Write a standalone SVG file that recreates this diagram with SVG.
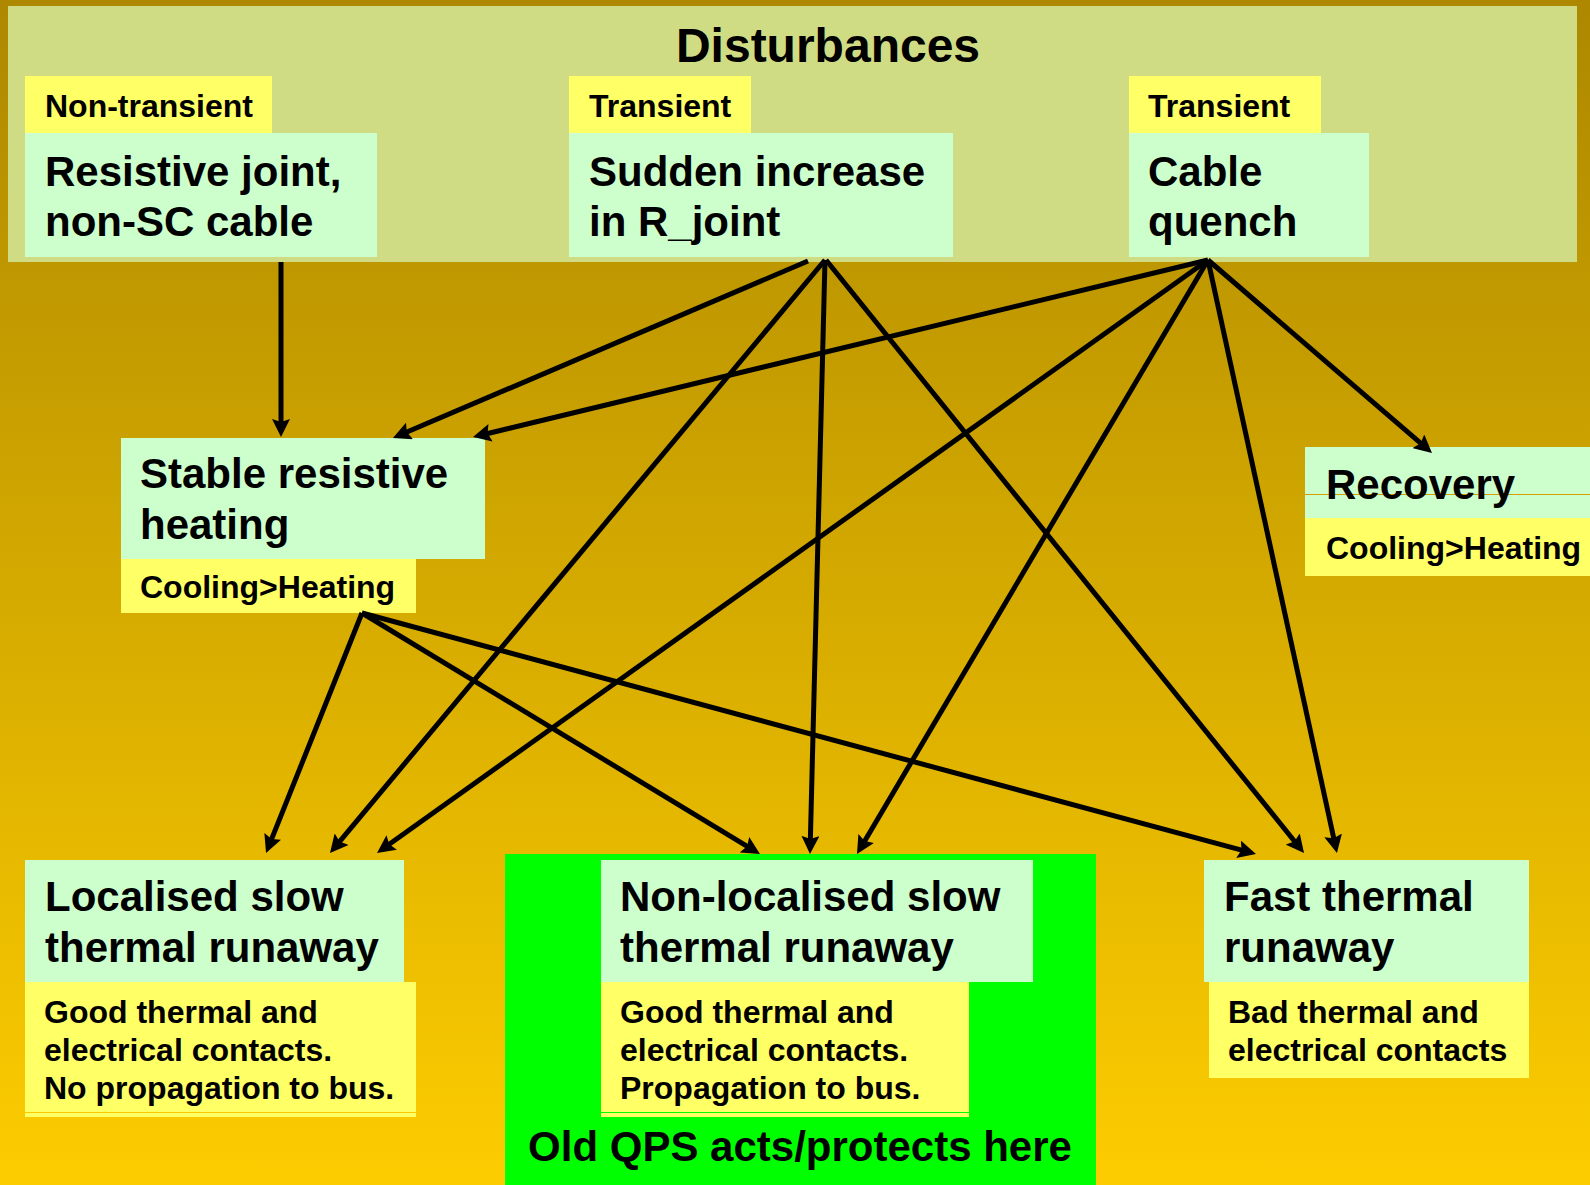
<svg xmlns="http://www.w3.org/2000/svg" width="1590" height="1185" viewBox="0 0 1590 1185">
  <defs>
    <linearGradient id="bg" x1="0" y1="0" x2="0" y2="1">
      <stop offset="0" stop-color="#ad8800"/>
      <stop offset="1" stop-color="#fdcc00"/>
    </linearGradient>
    <marker id="ah" viewBox="0 0 18 18" markerWidth="18" markerHeight="18" refX="6" refY="9" orient="auto" markerUnits="userSpaceOnUse">
      <path d="M0,0 L18,9 L0,18 L3,9 z" fill="#000"/>
    </marker>
    <style>
      .t { font-family: "Liberation Sans", Arial, sans-serif; font-weight: bold; fill: #000; }
      .big { font-size: 42px; }
      .small { font-size: 32px; }
      .title { font-size: 48px; }
      .g { fill: #ccffcc; }
      .y { fill: #ffff66; }
      .c { stroke: #000; stroke-width: 5; fill: none; marker-end: url(#ah); }
    </style>
  </defs>
  <rect x="0" y="0" width="1590" height="1185" fill="url(#bg)"/>

  <g id="disturbances">
    <rect x="8" y="6" width="1569" height="256" fill="#d0dc84"/>
    <text class="t title" x="828" y="62" text-anchor="middle">Disturbances</text>
  </g>

  <g id="resistive-joint">
    <rect class="y" x="25" y="76" width="247" height="57"/>
    <text class="t small" x="45" y="117">Non-transient</text>
    <rect class="g" x="25" y="133" width="352" height="124"/>
    <text class="t big" x="45" y="186">Resistive joint,</text>
    <text class="t big" x="45" y="236">non-SC cable</text>
  </g>

  <g id="sudden-increase">
    <rect class="y" x="569" y="76" width="182" height="57"/>
    <text class="t small" x="589" y="117">Transient</text>
    <rect class="g" x="569" y="133" width="384" height="124"/>
    <text class="t big" x="589" y="186">Sudden increase</text>
    <text class="t big" x="589" y="236">in R_joint</text>
  </g>

  <g id="cable-quench">
    <rect class="y" x="1129" y="76" width="192" height="57"/>
    <text class="t small" x="1148" y="117">Transient</text>
    <rect class="g" x="1129" y="133" width="240" height="124"/>
    <text class="t big" x="1148" y="186">Cable</text>
    <text class="t big" x="1148" y="236">quench</text>
  </g>

  <g id="stable-heating">
    <rect class="g" x="121" y="438" width="364" height="121"/>
    <text class="t big" x="140" y="488">Stable resistive</text>
    <text class="t big" x="140" y="539">heating</text>
    <rect class="y" x="121" y="559" width="295" height="54"/>
    <text class="t small" x="140" y="598">Cooling&gt;Heating</text>
  </g>

  <g id="recovery">
    <rect class="g" x="1305" y="447" width="285" height="71"/>
    <line x1="1305" y1="494.5" x2="1590" y2="494.5" stroke="#d4a000" stroke-width="1"/>
    <text class="t big" x="1326" y="499">Recovery</text>
    <rect class="y" x="1305" y="518" width="285" height="58"/>
    <text class="t small" x="1326" y="559">Cooling&gt;Heating</text>
  </g>

  <g id="localised">
    <rect class="g" x="25" y="860" width="379" height="122"/>
    <text class="t big" x="45" y="911">Localised slow</text>
    <text class="t big" x="45" y="962">thermal runaway</text>
    <rect class="y" x="25" y="982" width="391" height="130"/>
    <rect class="y" x="25" y="1113" width="391" height="4"/>
    <text class="t small" x="44" y="1023">Good thermal and</text>
    <text class="t small" x="44" y="1061">electrical contacts.</text>
    <text class="t small" x="44" y="1099">No propagation to bus.</text>
  </g>

  <g id="qps-zone">
    <rect x="505" y="854" width="591" height="331" fill="#00ff00"/>
    <text class="t big" x="800" y="1161" text-anchor="middle">Old QPS acts/protects here</text>
  </g>

  <g id="non-localised">
    <rect class="g" x="601" y="860" width="432" height="122"/>
    <text class="t big" x="620" y="911">Non-localised slow</text>
    <text class="t big" x="620" y="962">thermal runaway</text>
    <rect class="y" x="601" y="982" width="368" height="130"/>
    <rect class="y" x="601" y="1113" width="368" height="4"/>
    <text class="t small" x="620" y="1023">Good thermal and</text>
    <text class="t small" x="620" y="1061">electrical contacts.</text>
    <text class="t small" x="620" y="1099">Propagation to bus.</text>
  </g>

  <g id="fast">
    <rect class="g" x="1204" y="860" width="325" height="122"/>
    <text class="t big" x="1224" y="911">Fast thermal</text>
    <text class="t big" x="1224" y="962">runaway</text>
    <rect class="y" x="1209" y="982" width="320" height="96"/>
    <text class="t small" x="1228" y="1023">Bad thermal and</text>
    <text class="t small" x="1228" y="1061">electrical contacts</text>
  </g>

  <g id="connectors">
    <line class="c" x1="281" y1="262" x2="281" y2="425"/>
    <line class="c" x1="808" y1="261" x2="404.0" y2="433.3"/>
    <line class="c" x1="825" y1="260" x2="337.7" y2="843.8"/>
    <line class="c" x1="825" y1="260" x2="810.3" y2="842"/>
    <line class="c" x1="826" y1="260" x2="1296.5" y2="843.7"/>
    <line class="c" x1="1208" y1="260" x2="484.7" y2="434.2"/>
    <line class="c" x1="1208" y1="260" x2="386.8" y2="846.0"/>
    <line class="c" x1="1208" y1="260" x2="863.1" y2="843.7"/>
    <line class="c" x1="1208" y1="260" x2="1334.4" y2="841.3"/>
    <line class="c" x1="1208" y1="260" x2="1422.9" y2="445.2"/>
    <line class="c" x1="362" y1="613" x2="270.5" y2="841.9"/>
    <line class="c" x1="362" y1="613" x2="749.7" y2="847.8"/>
    <line class="c" x1="362" y1="613" x2="1244.4" y2="850.9"/>
  </g>
</svg>
